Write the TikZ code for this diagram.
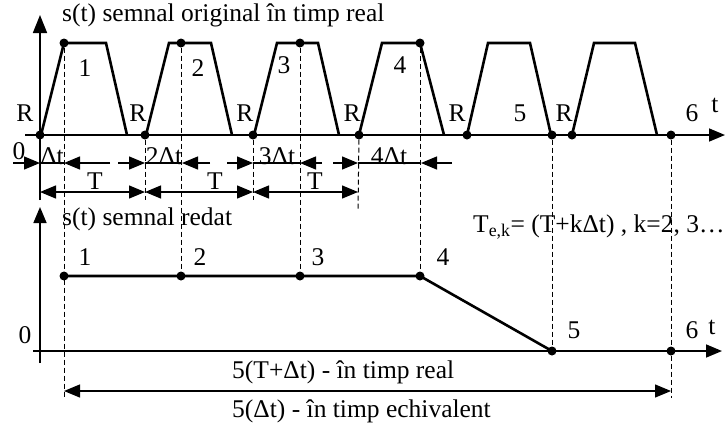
\documentclass[tikz,border=0pt]{standalone}
\usepackage{fontspec}
\setmainfont{Liberation Serif}
\usetikzlibrary{arrows.meta}
\begin{document}
\begin{tikzpicture}[x=1pt,y=-1pt,
  lbl/.style={font=\fontsize{25.5}{28}\selectfont, inner sep=0pt},
  axis/.style={line width=1.6pt},
  trap/.style={line width=2.6pt, line join=miter},
  guide/.style={line width=1pt, dash pattern=on 5pt off 3pt},
  dimline/.style={line width=1.3pt},
  dot/.style={circle, fill=black, inner sep=0pt, minimum size=9pt},
  tip/.style={-{Triangle[length=16pt,width=13pt]}},
  tips/.style={{Triangle[length=16pt,width=13pt]}-{Triangle[length=16pt,width=13pt]}},
]
\useasboundingbox (0,0) rectangle (727,429);

% ---------- upper graph ----------
\coordinate (o1) at (40,135);
\coordinate (ytop) at (40,15);
\coordinate (ybot) at (40,200);
\coordinate (xl1) at (25,135);
\coordinate (xr1) at (725,135);
\draw[axis, -{Triangle[length=18pt,width=14pt]}] (ybot) -- (ytop);
\draw[axis, tip] (xl1) -- (xr1);

\draw[trap] (41,135) -- (64,43) -- (106,43) -- (127,135);
\draw[trap] (146,135) -- (169,43) -- (211,43) -- (232,135);
\draw[trap] (254,135) -- (277,43) -- (318,43) -- (339,135);
\draw[trap] (359,135) -- (382,43) -- (420,43) -- (444,135);
\draw[trap] (467,135) -- (488,43) -- (530,43) -- (551,135);
\draw[trap] (572,135) -- (594,43) -- (635,43) -- (657,135);

% dots on upper axis
\node[dot] (a1) at (40,135) {};
\node[dot] (a2) at (145,135) {};
\node[dot] (a3) at (253,135) {};
\node[dot] (a4) at (359,135) {};
\node[dot] (a5) at (467,135) {};
\node[dot] (a6) at (552,135) {};
\node[dot] (a7) at (572,135) {};
\node[dot] (a8) at (671,135) {};
% dots on tops
\node[dot] (t1) at (64,43) {};
\node[dot] (t2) at (181,43) {};
\node[dot] (t3) at (300,43) {};
\node[dot] (t4) at (420,43) {};

% labels upper
\node[lbl, anchor=west] (title1) at (62,15) {s(t) semnal original în timp real};
\node[lbl] (r1) at (25,113) {R};
\node[lbl] (r2) at (138,113) {R};
\node[lbl] (r3) at (245,113) {R};
\node[lbl] (r4) at (352,113) {R};
\node[lbl] (r5) at (457,113) {R};
\node[lbl] (r6) at (564,113) {R};
\node[lbl] (n1) at (85,68) {1};
\node[lbl] (n2) at (198,68) {2};
\node[lbl] (n3) at (284,65) {3};
\node[lbl] (n4) at (400,65) {4};
\node[lbl] (n5) at (520,113) {5};
\node[lbl] (n6) at (692,113) {6};
\node[lbl] (tt1) at (715,105) {t};
\node[lbl] (z1) at (19,151) {0};

% ---------- lower graph ----------
\coordinate (ytop2) at (40,207);
\coordinate (ybot2) at (40,363);
\coordinate (xl2) at (33,351);
\coordinate (xr2) at (722,351);
\draw[axis, tip] (ybot2) -- (ytop2);
\draw[axis, tip] (xl2) -- (xr2);

\node[dot] (b1) at (64,276) {};
\node[dot] (b2) at (181,276) {};
\node[dot] (b3) at (300,276) {};
\node[dot] (b4) at (420,276) {};
\node[dot] (b5) at (552,351) {};
\node[dot] (b6) at (671,351) {};
\draw[trap] (b1.center) -- (b2.center) -- (b3.center) -- (b4.center) -- (b5.center);

\node[lbl, anchor=west] (title2) at (62,219) {s(t) semnal redat};
\node[lbl] (m1) at (85,257) {1};
\node[lbl] (m2) at (200,257) {2};
\node[lbl] (m3) at (318,257) {3};
\node[lbl] (m4) at (443,257) {4};
\node[lbl] (m5) at (574,330) {5};
\node[lbl] (m6) at (692,330) {6};
\node[lbl] (tt2) at (712,327) {t};
\node[lbl] (z2) at (25,335) {0};
\node[lbl, anchor=west] (tek) at (473,227) {T\textsubscript{e,k}= (T+kΔt) , k=2, 3…};

% ---------- guide lines ----------
\coordinate (g1) at (64,398);
\coordinate (g2a) at (145,200);
\coordinate (g3a) at (253,200);
\coordinate (g4a) at (358,210);
\coordinate (g8) at (671,398);
\draw[guide] (t1) -- (g1);
\draw[guide] (a2) -- (g2a);
\draw[guide] (t2) -- (b2);
\draw[guide] (a3) -- (g3a);
\draw[guide] (t3) -- (b3);
\draw[guide] (a4) -- (g4a);
\draw[guide] (t4) -- (b4);
\draw[guide] (a6) -- (b5);
\draw[guide] (a8) -- (g8);

% ---------- dimension row 1 (k Delta t) ----------
\coordinate (d0) at (13,163);
\coordinate (d1) at (40,163);
\coordinate (d2) at (64,163);
\coordinate (d3) at (110,163);
\coordinate (d4) at (118,163);
\coordinate (d5) at (145,163);
\coordinate (d6) at (182,163);
\coordinate (d7) at (210,163);
\coordinate (d8) at (227,163);
\coordinate (d9) at (253,163);
\coordinate (d10) at (300,163);
\coordinate (d11) at (322,163);
\coordinate (d12) at (333,163);
\coordinate (d13) at (358,163);
\coordinate (d14) at (421,163);
\coordinate (d15) at (452,163);
\draw[dimline, tip] (d0) -- (d1);
\draw[dimline] (d1) -- (d2);
\draw[dimline, tip] (d3) -- (d2);
\draw[dimline, tip] (d4) -- (d5);
\draw[dimline] (d5) -- (d6);
\draw[dimline, tip] (d7) -- (d6);
\draw[dimline, tip] (d8) -- (d9);
\draw[dimline] (d9) -- (d10);
\draw[dimline, tip] (d11) -- (d10);
\draw[dimline, tip] (d12) -- (d13);
\draw[dimline] (d13) -- (d14);
\draw[dimline, tip] (d15) -- (d14);
\node[lbl, anchor=south] (dt1) at (52,165) {Δt};
\node[lbl, anchor=south] (dt2) at (164,165) {2Δt};
\node[lbl, anchor=south] (dt3) at (277,165) {3Δt};
\node[lbl, anchor=south] (dt4) at (389,165) {4Δt};

% ---------- dimension row 2 (T) ----------
\coordinate (e0) at (40,192);
\coordinate (e1) at (145,192);
\coordinate (e2) at (253,192);
\coordinate (e3) at (358,192);
\draw[dimline, tips] (e0) -- (e1);
\draw[dimline, tips] (e1) -- (e2);
\draw[dimline, tips] (e2) -- (e3);
\node[lbl] (T1) at (95,181) {T};
\node[lbl] (T2) at (215,181) {T};
\node[lbl] (T3) at (315,181) {T};

% ---------- bottom span ----------
\coordinate (s0) at (64,391);
\coordinate (s1) at (671,391);
\draw[dimline, tips] (s0) -- (s1);
\node[lbl, anchor=west] (real) at (232,372) {5(T+Δt) - în timp real};
\node[lbl, anchor=west] (echiv) at (232,411) {5(Δt) - în timp echivalent};
\end{tikzpicture}
\end{document}
